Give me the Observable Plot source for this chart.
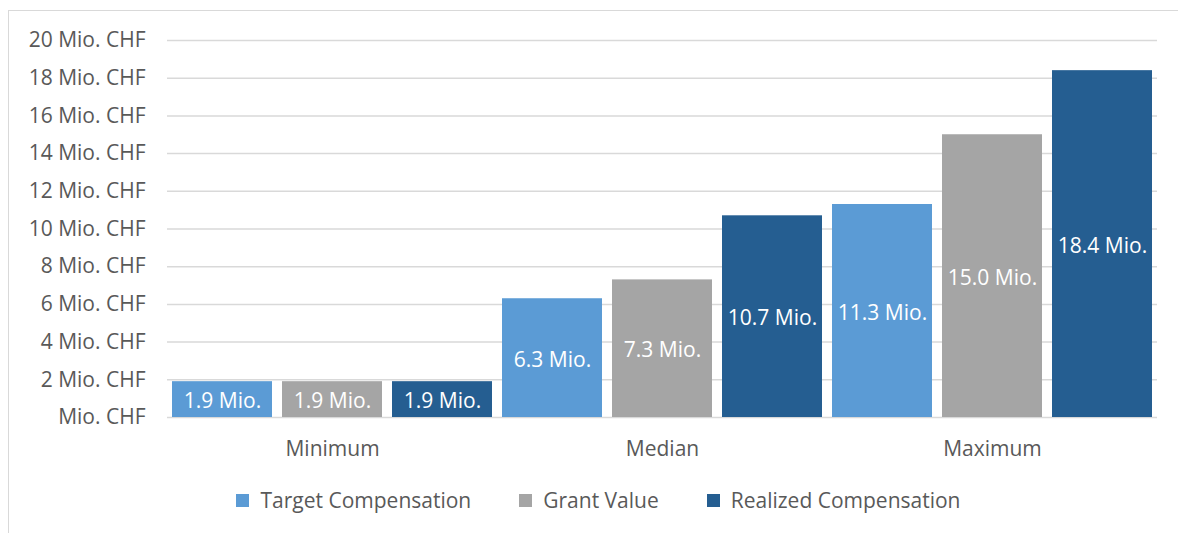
<!DOCTYPE html>
<html>
<head>
<meta charset="utf-8">
<script src="https://cdn.jsdelivr.net/npm/d3@7"></script>
<script src="https://cdn.jsdelivr.net/npm/@observablehq/plot@0.6"></script>
<style>
  html, body { margin: 0; padding: 0; background: #fff; }
  body { width: 1178px; height: 533px; position: relative; overflow: hidden; font-family: "Open Sans", sans-serif; }
  #frame { position: absolute; left: 8px; top: 10px; width: 1200px; height: 600px; border-top: 1.5px solid #d9d9d9; border-left: 1.5px solid #d9d9d9; box-sizing: border-box; }
  #chart { position: absolute; left: 0; top: 0; }
  #legend { position: absolute; left: 0; top: 485px; width: 1178px; display: flex; justify-content: center; padding-left: 19px; box-sizing: border-box; font-size: 21px; line-height: 30px; color: #595959; }
  .item { display: flex; align-items: center; margin: 0 24px; }
  .sw { width: 13px; height: 13px; margin-right: 11px; }
</style>
</head>
<body>
<div id="frame"></div>
<div id="chart"></div>
<div id="legend"></div>
<script>
const groups = ["Minimum", "Median", "Maximum"];
const series = ["Target Compensation", "Grant Value", "Realized Compensation"];
const targetValues = [1.9, 6.3, 11.3];
const grantValues = [1.9, 7.3, 15.0];
const realizedValues = [1.9, 10.7, 18.4];
const colors = ["#5b9bd5", "#a5a5a5", "#255e91"];
const yTicks = [0, 2, 4, 6, 8, 10, 12, 14, 16, 18, 20];
const yTickLabels = ["Mio. CHF", "2 Mio. CHF", "4 Mio. CHF", "6 Mio. CHF", "8 Mio. CHF", "10 Mio. CHF", "12 Mio. CHF", "14 Mio. CHF", "16 Mio. CHF", "18 Mio. CHF", "20 Mio. CHF"];

const seriesValues = [targetValues, grantValues, realizedValues];
const data = [];
groups.forEach((g, gi) => {
  series.forEach((s, si) => {
    data.push({group: g, series: s, value: seriesValues[si][gi]});
  });
});

const chart = Plot.plot({
  width: 1178,
  height: 470,
  marginTop: 40,
  marginBottom: 53,
  marginLeft: 166,
  marginRight: 20,
  style: {fontFamily: "'Open Sans', sans-serif", fontSize: "21px", color: "#595959", background: "transparent"},
  fx: {domain: groups, padding: 0, label: null},
  x: {domain: series, paddingInner: 0.0909, paddingOuter: 0.04545, axis: null},
  y: {domain: [0, 20], label: null},
  color: {domain: series, range: colors},
  marks: [
    Plot.ruleY(yTicks, {stroke: "#d9d9d9", strokeWidth: 1.5}),
    Plot.barY(data, {fx: "group", x: "series", y: "value", fill: "series", inset: 0}),
    Plot.text(data, {fx: "group", x: "series", y: d => d.value / 2, dy: 2, text: d => d.value.toFixed(1) + " Mio.", fill: "white", fontSize: 21}),
    Plot.axisY({ticks: yTicks, tickFormat: (d) => yTickLabels[yTicks.indexOf(d)], tickSize: 0, tickPadding: 22, fontSize: 21, label: null}),
    Plot.axisFx({anchor: "bottom", tickSize: 0, tickPadding: 24, fontSize: 21, label: null})
  ]
});
document.getElementById("chart").appendChild(chart);

const legend = document.getElementById("legend");
series.forEach((s, i) => {
  const item = document.createElement("div");
  item.className = "item";
  const sw = document.createElement("span");
  sw.className = "sw";
  sw.style.background = colors[i];
  const t = document.createElement("span");
  t.textContent = s;
  item.appendChild(sw);
  item.appendChild(t);
  legend.appendChild(item);
});
</script>
</body>
</html>
